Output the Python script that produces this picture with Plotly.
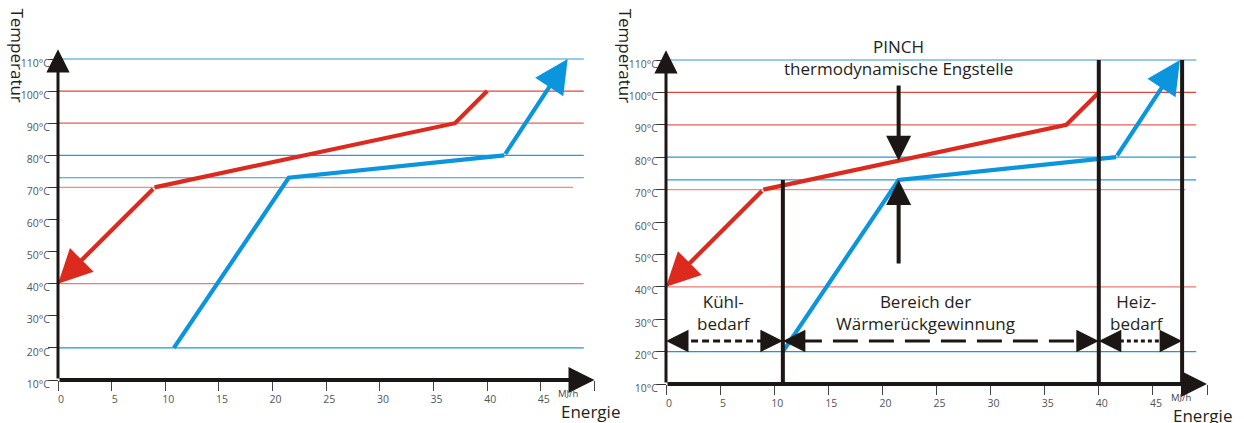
import numpy as np
import plotly.graph_objects as go

# ---------------- data ----------------
x_tick_vals = [0, 5, 10, 15, 20, 25, 30, 35, 40, 45, 50]
x_tick_text = ["0", "5", "10", "15", "20", "25", "30", "35", "40", "45", ""]
y_tick_vals = [10, 20, 30, 40, 50, 60, 70, 80, 90, 100, 110]
y_tick_text = [f"{v}°C" for v in y_tick_vals]

# horizontal temperature levels (°C), colour and right end (MJ/h)
grid_temps = [110, 100, 90, 80, 73, 70, 40, 20]
grid_colors = ["#2f97d9", "#e0443d", "#e4605a", "#2f97d9", "#2f97d9", "#ee8b86", "#ec7a74", "#1f95dc"]
grid_ends = [49, 49, 49, 49, 49, 48, 49, 49]

# hot stream (to be cooled) and cold stream (to be heated)
hot_energy = [40, 37, 9, 0]
hot_temp = [100, 90, 70, 40]
cold_energy = [10.8, 21.5, 41.6, 47.5]
cold_temp = [20, 73, 80, 110]

# pinch point
pinch_energy = 21.5
pinch_cold_temp = 73
pinch_arrow_top = 102.6
pinch_arrow_bottom = 46.7

# region boundaries and labels (right panel)
boundary_energy = [10.8, 40, 47.7]
boundary_top = [73, 110, 110]
region_start = [0, 10.8, 40]
region_end = [10.8, 40, 47.7]
region_text = ["Kühl-<br>bedarf", "Bereich der<br>Wärmerückgewinnung", "Heiz-<br>bedarf"]
region_text_x = [5.4, 24.0, 43.5]
region_dash = ["7px,4px", "25px,11px", "4px,3px"]
region_arrow_temp = 23.3
region_text_temp = 32

# ---------------- styling ----------------
W, H = 1244, 423
FONT = "Open Sans"
RED = "#dc2a1f"
BLUE = "#0b95dc"
INK = "#1c1714"
X_END = 50
Y_END = 113

fig = go.Figure()

# pixel geometry of each panel: origin pixel, px per MJ/h, px per °C, pixel span
panels = [
    dict(xr="x", yr="y", ox=58, oy=380, sx=10.73, sy=3.21, px0=0, px1=621),
    dict(xr="x2", yr="y2", ox=666, oy=384, sx=10.82, sy=3.24, px0=622, px1=1244),
]


def arrow(p, tip, tail, color, width, size):
    fig.add_annotation(
        x=tip[0], y=tip[1], ax=tail[0], ay=tail[1],
        xref=p["xr"], yref=p["yr"], axref=p["xr"], ayref=p["yr"],
        text="", showarrow=True, arrowhead=2, arrowsize=size,
        arrowwidth=width, arrowcolor=color, standoff=0, startstandoff=0,
    )


def text(p, x, y, s, size, color="#231f20", **kw):
    fig.add_annotation(
        x=x, y=y, xref=p["xr"], yref=p["yr"], text=s, showarrow=False,
        font=dict(family=FONT, size=size, color=color), **kw,
    )


for i, p in enumerate(panels):
    xr, yr = p["xr"], p["yr"]
    # temperature levels
    for t, c, e in zip(grid_temps, grid_colors, grid_ends):
        fig.add_trace(go.Scatter(x=[0, e], y=[t, t], mode="lines", xaxis=xr, yaxis=yr,
                                 line=dict(color=c, width=1.2), hoverinfo="skip", showlegend=False))
    # streams (last segment drawn as arrow)
    fig.add_trace(go.Scatter(x=hot_energy[:-1], y=hot_temp[:-1], mode="lines", xaxis=xr, yaxis=yr,
                             line=dict(color=RED, width=4.2), showlegend=False, hoverinfo="skip"))
    fig.add_trace(go.Scatter(x=cold_energy[:-1], y=cold_temp[:-1], mode="lines", xaxis=xr, yaxis=yr,
                             line=dict(color=BLUE, width=4.2), showlegend=False, hoverinfo="skip"))
    arrow(p, (hot_energy[-1], hot_temp[-1]), (hot_energy[-2], hot_temp[-2]), RED, 4.2, 1.6)
    arrow(p, (cold_energy[-1], cold_temp[-1]), (cold_energy[-2], cold_temp[-2]), BLUE, 4.2, 1.6)

    # axes with arrowheads
    arrow(p, (X_END, 10), (0, 10), INK, 4, 1.3)
    arrow(p, (0, Y_END), (0, 10), INK, 3, 1.55)

    # axis titles
    text(p, -3.75, 111.2, "Temperatur", 17, textangle=90)
    text(p, 49.6, 0.3 - 0.1 * i, "Energie", 17)
    text(p, 47.6, 5.7, "MJ/h", 9.5, color="#444")

    if i == 1:
        # region boundaries
        for bx, bt in zip(boundary_energy, boundary_top):
            fig.add_trace(go.Scatter(x=[bx, bx], y=[10, bt], mode="lines", xaxis=xr, yaxis=yr,
                                     line=dict(color=INK, width=4), showlegend=False, hoverinfo="skip"))
        # pinch arrows
        pinch_hot_temp = float(np.interp(pinch_energy, hot_energy[::-1], hot_temp[::-1]))
        arrow(p, (pinch_energy, pinch_hot_temp), (pinch_energy, pinch_arrow_top), INK, 4, 1.25)
        arrow(p, (pinch_energy, pinch_cold_temp), (pinch_energy, pinch_arrow_bottom), INK, 4, 1.25)
        text(p, pinch_energy, 114.3, "PINCH", 17)
        text(p, pinch_energy, 107.4, "thermodynamische Engstelle", 17)
        # regions: dashed double arrows and labels
        for s, e, lbl, tx, d in zip(region_start, region_end, region_text, region_text_x, region_dash):
            fig.add_trace(go.Scatter(x=[s + 1.3, e - 1.3], y=[region_arrow_temp] * 2, mode="lines",
                                     xaxis=xr, yaxis=yr, line=dict(color=INK, width=3, dash=d),
                                     showlegend=False, hoverinfo="skip"))
            arrow(p, (s, region_arrow_temp), (s + 1.6, region_arrow_temp), INK, 3, 1.5)
            arrow(p, (e, region_arrow_temp), (e - 1.6, region_arrow_temp), INK, 3, 1.5)
            text(p, tx, region_text_temp, lbl, 17)

# ---------------- layout ----------------
layout = dict(
    width=W, height=H, margin=dict(l=0, r=0, t=0, b=0),
    paper_bgcolor="white", plot_bgcolor="rgba(0,0,0,0)", showlegend=False,
)
for i, p in enumerate(panels):
    sfx = "" if i == 0 else "2"
    xrange = [(p["px0"] - p["ox"]) / p["sx"], (p["px1"] - p["ox"]) / p["sx"]]
    yrange = [10 - (H - p["oy"]) / p["sy"], 10 + p["oy"] / p["sy"]]
    layout["xaxis" + sfx] = dict(
        domain=[p["px0"] / W, p["px1"] / W], range=xrange, anchor="free", position=(H - p["oy"]) / H,
        showgrid=False, zeroline=False, showline=False,
        tickmode="array", tickvals=x_tick_vals, ticktext=x_tick_text,
        ticks="outside", ticklen=10, tickwidth=1, tickcolor="#444",
        tickfont=dict(family=FONT, size=10.5, color="#555"), ticklabelshift=3, ticklabelstandoff=-1,
    )
    layout["yaxis" + sfx] = dict(
        domain=[0, 1], range=yrange, anchor="free", position=p["ox"] / W,
        showgrid=False, zeroline=False, showline=False,
        tickmode="array", tickvals=y_tick_vals, ticktext=y_tick_text,
        ticks="outside", ticklen=10, tickwidth=1, tickcolor="#333",
        tickfont=dict(family=FONT, size=10.5, color="#555"), ticklabelshift=4, ticklabelstandoff=-4,
    )
fig.update_layout(**layout)

fig.write_html("out.html")
